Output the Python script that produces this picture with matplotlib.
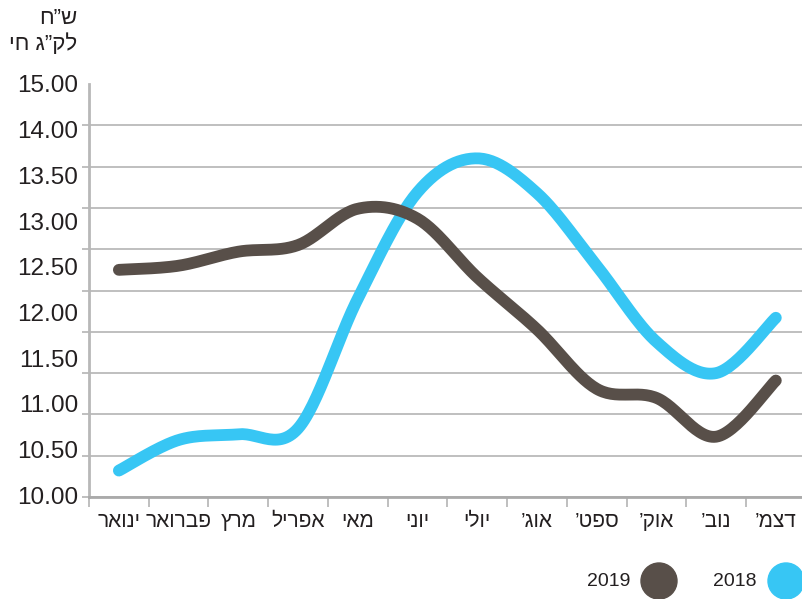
import numpy as np
import matplotlib
matplotlib.use('Agg')
import matplotlib.pyplot as plt
from matplotlib.patches import Ellipse
from matplotlib.ticker import FixedLocator, NullFormatter

plt.rcParams['font.family'] = ['Liberation Sans', 'DejaVu Sans']

# data (shekel per kg live weight)
months = ['ינואר', 'פברואר', 'מרץ', 'אפריל', 'מאי', 'יוני', 'יולי',
          'אוג’', 'ספט’', 'אוק’', 'נוב’', 'דצמ’']
price_2019 = [12.75, 12.80, 12.97, 13.05, 13.49, 13.37, 12.66,
              12.03, 11.31, 11.20, 10.73, 11.41]
price_2018 = [10.32, 10.69, 10.76, 10.83, 12.40, 13.69, 14.10,
              13.68, 12.80, 11.88, 11.50, 12.17]
ytick_text = ['15.00', '14.00', '13.50', '13.00', '12.50',
              '12.00', '11.50', '11.00', '10.50', '10.00']

DARK = '#584f49'
BLUE = '#37c6f4'
GRID = '#b4b4b4'
TEXT = '#231f20'


def rtl(s):
    # matplotlib draws left to right, so flip the hebrew text
    return s[::-1]


def smooth(xs, ys, n=30):
    # catmull-rom curve through the points (like excel's smoothed line)
    xs = np.asarray(xs, float)
    ys = np.asarray(ys, float)
    px = np.concatenate([[xs[0]], xs, [xs[-1]]])
    py = np.concatenate([[ys[0]], ys, [ys[-1]]])
    outx, outy = [], []
    t = np.linspace(0, 1, n)
    for i in range(1, len(px) - 2):
        for p, out in ((px, outx), (py, outy)):
            p0, p1, p2, p3 = p[i - 1], p[i], p[i + 1], p[i + 2]
            m1 = (p2 - p0) / 2
            m2 = (p3 - p1) / 2
            h00 = 2 * t**3 - 3 * t**2 + 1
            h10 = t**3 - 2 * t**2 + t
            h01 = -2 * t**3 + 3 * t**2
            h11 = t**3 - t**2
            out.extend(h00 * p1 + h10 * m1 + h01 * p2 + h11 * m2)
    return np.array(outx), np.array(outy)


fig = plt.figure(figsize=(8.03, 5.99), dpi=100)
ax = fig.add_axes([89 / 803, 1 - 497 / 599, 1 - 89 / 803, (497 - 84) / 599])

x = np.arange(len(months))
sx, sy = smooth(x, price_2018)
ax.plot(sx, sy, color=BLUE, lw=8.5, solid_capstyle='round', zorder=3)
sx, sy = smooth(x, price_2019)
ax.plot(sx, sy, color=DARK, lw=8.5, solid_capstyle='round', zorder=4)

ax.set_xlim(-0.5, 11.455)
ax.set_ylim(10, 15)

# gridlines every 0.5, labels spaced on their own
ax.yaxis.set_minor_locator(FixedLocator(np.arange(10, 15.01, 0.5)))
ax.yaxis.set_minor_formatter(NullFormatter())
ax.set_yticks(np.linspace(15, 10.02, 10))
ax.set_yticklabels(ytick_text, fontsize=17.5, color=TEXT)
ax.tick_params(axis='y', which='major', length=0, pad=8)
ax.tick_params(axis='y', which='minor', length=5, width=1.2, color=GRID)
ax.grid(True, axis='y', which='minor', color=GRID, lw=1.2)

ax.set_xticks(x)
ax.set_xticklabels([rtl(m) for m in months], fontsize=15, color=TEXT)
ax.xaxis.set_minor_locator(FixedLocator(np.arange(-0.5, 12, 1)))
ax.tick_params(axis='x', which='major', length=0, pad=11)
ax.tick_params(axis='x', which='minor', length=7, width=1.2, color=GRID)

for side in ['top', 'right']:
    ax.spines[side].set_visible(False)
ax.spines['left'].set_color('#b8b8b8')
ax.spines['left'].set_linewidth(2)
ax.spines['bottom'].set_color('#aaaaaa')
ax.spines['bottom'].set_linewidth(2)
ax.set_axisbelow(True)

# unit label
fig.text(77 / 803, 1 - 18 / 599, rtl('ש”ח'), ha='right', va='center',
         fontsize=16, color=TEXT)
fig.text(77 / 803, 1 - 44 / 599, rtl('לק”ג חי'), ha='right', va='center',
         fontsize=16, color=TEXT)

# legend
for cx, tx, label, col in [(659, 630, '2019', DARK), (786, 757, '2018', BLUE)]:
    fig.patches.append(Ellipse((cx / 803, 1 - 581 / 599), 36 / 803, 36 / 599,
                               transform=fig.transFigure, color=col))
    fig.text(tx / 803, 1 - 581 / 599, label, ha='right', va='center',
             fontsize=14, color=TEXT)

fig.savefig('out.png', dpi=100)
